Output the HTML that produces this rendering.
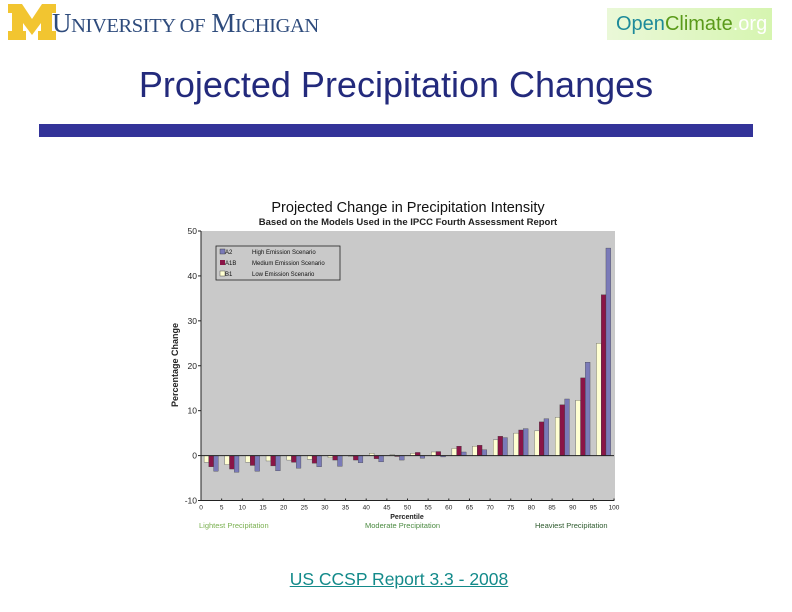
<!DOCTYPE html>
<html><head><meta charset="utf-8">
<style>
body{margin:0;width:792px;height:612px;background:#fff;position:relative;overflow:hidden;font-family:"Liberation Sans",sans-serif}
.abs{position:absolute}
</style></head>
<body>
<div class="abs" style="left:8px;top:3px;width:330px;height:40px">
<svg width="50" height="38" style="position:absolute;left:0;top:0">
<polygon points="0,1 14,1 24,16 34,1 48,1 48,10 44,10 44,28 48,28 48,37 30,37 30,28 33,28 33,20 24,32 15,20 15,28 18,28 18,37 0,37 0,28 4,28 4,10 0,10" fill="#f2c530"/>
</svg>
<div class="abs" style="left:44px;top:5px;font-family:'Liberation Serif',serif;color:#2e4b7c;font-size:27px;white-space:nowrap;letter-spacing:-0.4px">U<span style="font-size:20.5px">NIVERSITY OF</span> M<span style="font-size:20.5px">ICHIGAN</span></div>
</div>
<div class="abs" style="left:607px;top:8px;width:165px;height:32px;background:linear-gradient(90deg,#eaf8d8,#d6f5b0);font-size:20px;line-height:32px;padding-left:9px;box-sizing:border-box;white-space:nowrap"><span style="color:#1d8a9a">Open</span><span style="color:#5a9a1a">Climate</span><span style="color:#fff">.org</span></div>
<div class="abs" style="left:0;width:792px;top:64px;text-align:center;font-size:36px;color:#232a7c">Projected Precipitation Changes</div>
<div class="abs" style="left:39px;top:124px;width:714px;height:13px;background:#333399"></div>

<svg class="abs" style="left:0;top:0" width="792" height="612" id="chart">
<text x="408" y="212" text-anchor="middle" font-size="14.5" font-family="Liberation Sans" fill="#111">Projected Change in Precipitation Intensity</text>
<text x="408" y="225" text-anchor="middle" font-size="9.5" font-weight="bold" font-family="Liberation Sans" fill="#222">Based on the Models Used in the IPCC Fourth Assessment Report</text>
<rect x="201" y="231" width="414" height="270" fill="#c9c9c9"/>
<g id="bars"></g>
<g id="axes"></g>
<text transform="translate(178,365) rotate(-90)" text-anchor="middle" font-size="9" font-weight="bold" fill="#222">Percentage Change</text>
<text x="407" y="519" text-anchor="middle" font-size="7" font-weight="bold" fill="#222">Percentile</text>
<text x="199" y="528" font-size="7.5" fill="#7ab050">Lightest Precipitation</text>
<text x="365" y="528" font-size="7.5" fill="#4a8a40">Moderate Precipitation</text>
<text x="535" y="528" font-size="7.5" fill="#2d5a2d">Heaviest Precipitation</text>
<g>
<rect x="216" y="246" width="124" height="34" fill="#c9c9c9" stroke="#222" stroke-width="0.8"/>
<rect x="220" y="249" width="5" height="5" fill="#7a7ab8" stroke="#333" stroke-width="0.4"/>
<text x="225" y="254" font-size="6" fill="#111">A2</text>
<text x="252" y="254" font-size="6" fill="#111">High Emission Scenario</text>
<rect x="220" y="260" width="5" height="5" fill="#8a1547"/>
<text x="225" y="265" font-size="6" fill="#111">A1B</text>
<text x="252" y="265" font-size="6" fill="#111">Medium Emission Scenario</text>
<rect x="220" y="271" width="5" height="5" fill="#ffffd2" stroke="#333" stroke-width="0.4"/>
<text x="225" y="276" font-size="6" fill="#111">B1</text>
<text x="252" y="276" font-size="6" fill="#111">Low Emission Scenario</text>
</g>
</svg>
<a class="abs" href="#" style="left:0;width:798px;top:569px;text-align:center;font-size:17.5px;color:#138a8a;text-decoration:underline">US CCSP Report 3.3 - 2008</a>

<script>
const categories=[0,5,10,15,20,25,30,35,40,45,50,55,60,65,70,75,80,85,90,95];
const xTicks=[0,5,10,15,20,25,30,35,40,45,50,55,60,65,70,75,80,85,90,95,100];
const yTicks=[-10,0,10,20,30,40,50];
const seriesB1=[-1.5,-2,-1.5,-1.2,-1,-0.8,-0.5,-0.2,0.5,0.2,0.5,0.8,1.6,2.1,3.5,5,5.5,8.5,12.3,25];
const seriesA1B=[-2.5,-3,-2.2,-2.3,-1.5,-1.7,-1,-1,-0.7,-0.2,0.7,0.9,2.1,2.3,4.3,5.7,7.5,11.3,17.3,35.8];
const seriesA2=[-3.5,-3.7,-3.5,-3.4,-2.8,-2.5,-2.4,-1.6,-1.4,-1,-0.6,-0.3,0.8,1.3,4,6,8.2,12.6,20.8,46.2];
const X0=201,X1=614,Y50=231,YM10=500.5;
function xs(p){return X0+(X1-X0)*p/100;}
function ys(v){return YM10+(v+10)*(Y50-YM10)/60;}
const NS='http://www.w3.org/2000/svg';
const bars=document.getElementById('bars'),axes=document.getElementById('axes');
const series=[{d:seriesB1,c:'#ffffd2',n:'b1'},{d:seriesA1B,c:'#8a1547',n:'a1b'},{d:seriesA2,c:'#7a7ab8',n:'a2'}];
const gw=xs(5)-xs(0),bw=gw*0.23;
categories.forEach((cat,i)=>{
  series.forEach((s,j)=>{
    const v=s.d[i];const r=document.createElementNS(NS,'rect');
    const x=xs(cat)+gw*0.15+j*bw;
    r.setAttribute('x',x);r.setAttribute('width',bw);
    r.setAttribute('y',Math.min(ys(v),ys(0)));r.setAttribute('height',Math.abs(ys(v)-ys(0)));
    r.setAttribute('fill',s.c);r.setAttribute('stroke','#333');r.setAttribute('stroke-width','0.3');
    
    
    bars.appendChild(r);
  });
});
function line(x1,y1,x2,y2,w){const l=document.createElementNS(NS,'line');l.setAttribute('x1',x1);l.setAttribute('y1',y1);l.setAttribute('x2',x2);l.setAttribute('y2',y2);l.setAttribute('stroke','#222');l.setAttribute('stroke-width',w||1);axes.appendChild(l);return l;}
function txt(x,y,t,a,fs){const e=document.createElementNS(NS,'text');e.setAttribute('x',x);e.setAttribute('y',y);e.setAttribute('text-anchor',a);e.setAttribute('font-size',fs);e.setAttribute('fill','#222');e.textContent=t;axes.appendChild(e);return e;}
const za=line(X0,ys(0),X1,ys(0),1);


const ya=line(X0,Y50,X0,YM10,1);


const xa=line(X0,YM10,X1,YM10,1);


yTicks.forEach(v=>{line(X0-3,ys(v),X0,ys(v));const t=txt(X0-4,ys(v)+3,String(v),'end',8.5);

});
xTicks.forEach(p=>{line(xs(p),YM10,xs(p),YM10-2);const t=txt(xs(p),YM10+9,String(p),'middle',6.5);

});
</script>
</body></html>
